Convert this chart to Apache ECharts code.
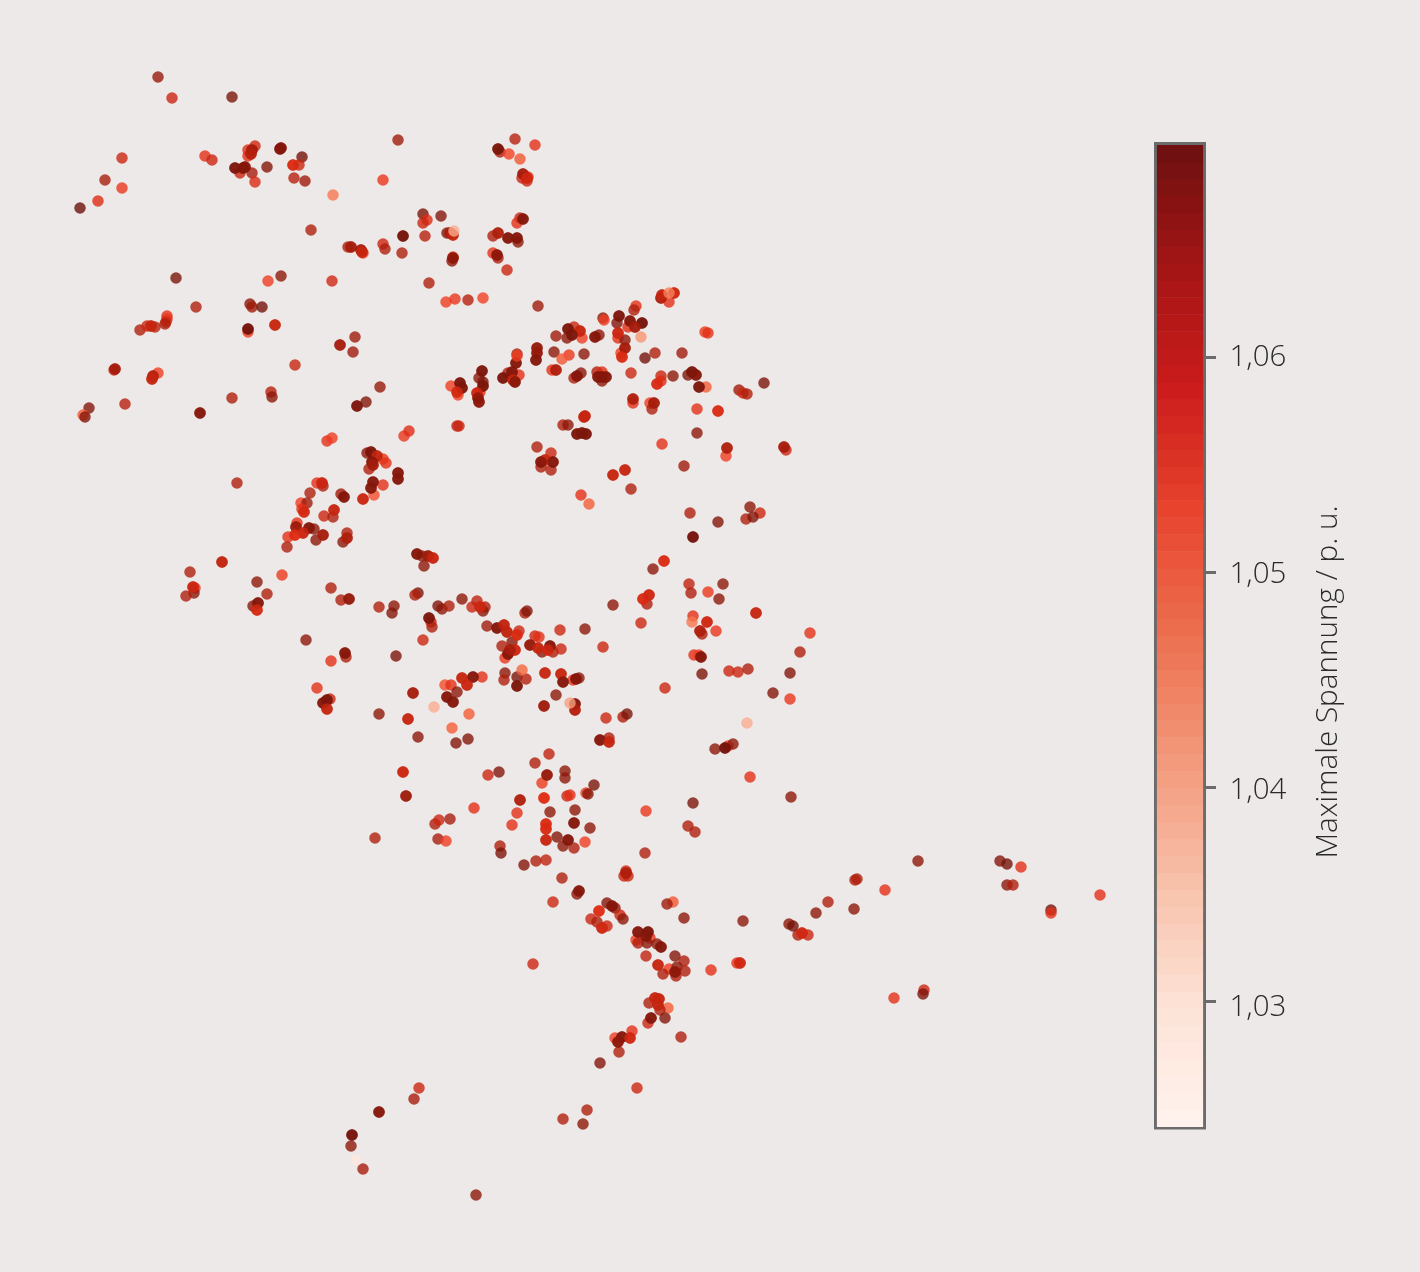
<!DOCTYPE html>
<html><head><meta charset="utf-8">
<style>html,body{margin:0;padding:0;background:#ede9e8}#c{width:1420px;height:1272px}</style>
<script src="https://cdn.jsdelivr.net/npm/echarts@6/dist/echarts.min.js"></script>
</head><body><div id="c"></div>
<script>
// Nodes: [easting, northing, maximum voltage in p.u.]
var nodesNorthWest = [[158,77,1.064],[172,98,1.057],[232,97,1.067],[122,158,1.057],[105,180,1.062],[122,188,1.05],[98,201,1.053],[80,208,1.069],[205,156,1.052],[212,160,1.057],[255,146,1.056],[248,150,1.053],[248,156,1.052],[240,173,1.057],[252,173,1.062],[255,182,1.054],[302,157,1.068],[267,167,1.066],[299,165,1.057],[294,178,1.06],[305,181,1.063],[333,195,1.04],[383,180,1.05],[398,140,1.063],[311,230,1.061],[423,214,1.067],[427,220,1.053],[423,223,1.057],[441,216,1.066],[425,236,1.06],[447,233,1.066],[348,247,1.061],[363,253,1.05],[383,244,1.057],[385,249,1.061],[402,253,1.061],[453,257,1.05],[452,261,1.065],[176,278,1.067],[281,276,1.065],[268,281,1.048],[332,281,1.056],[429,283,1.061],[446,302,1.048],[455,299,1.05],[196,307,1.061],[250,304,1.065],[252,307,1.063],[262,307,1.068],[167,316,1.052],[167,319,1.05],[166,322,1.057],[165,324,1.061],[140,330,1.061],[147,326,1.057],[155,327,1.06],[248,332,1.048],[355,337,1.063],[353,352,1.063],[295,365,1.058],[114,370,1.057],[158,373,1.048],[380,387,1.064],[271,392,1.06],[272,397,1.065],[232,398,1.061],[125,404,1.06],[366,402,1.066],[89,408,1.066],[83,415,1.043],[85,417,1.066],[457,426,1.06],[404,436,1.05],[409,431,1.053],[327,441,1.052],[332,438,1.048]];
var nodesNorthEast = [[515,139,1.06],[535,145,1.052],[500,152,1.061],[509,154,1.047],[520,159,1.044],[528,177,1.053],[522,178,1.057],[527,181,1.057],[520,218,1.057],[517,223,1.052],[493,236,1.061],[518,242,1.065],[493,253,1.052],[498,258,1.061],[507,270,1.057],[468,300,1.06],[483,298,1.047],[538,306,1.063],[669,302,1.052],[636,306,1.052],[634,310,1.061],[603,318,1.065],[604,320,1.048],[617,323,1.066],[628,327,1.053],[618,338,1.052],[625,340,1.065],[621,353,1.048],[574,327,1.058],[567,338,1.065],[582,338,1.048],[556,336,1.063],[599,335,1.065],[655,353,1.061],[682,353,1.063],[645,358,1.068],[554,352,1.065],[569,355,1.05],[584,354,1.065],[517,354,1.061],[519,375,1.052],[508,373,1.061],[479,378,1.065],[483,382,1.067],[480,392,1.052],[451,386,1.048],[458,395,1.048],[552,370,1.052],[581,373,1.065],[574,378,1.061],[597,372,1.061],[602,372,1.053],[602,381,1.065],[631,373,1.057],[661,376,1.058],[661,381,1.053],[673,376,1.065],[688,375,1.067],[706,387,1.043],[705,332,1.049],[708,333,1.052],[739,390,1.063],[743,393,1.057],[747,394,1.061],[764,383,1.067],[633,403,1.052],[650,403,1.048],[652,409,1.061],[697,409,1.052],[459,426,1.057],[563,425,1.061],[568,425,1.065],[697,433,1.065],[662,444,1.052],[726,456,1.048],[786,450,1.057],[684,466,1.063],[537,447,1.061],[551,453,1.057],[541,467,1.061],[551,470,1.061],[631,489,1.061],[581,495,1.052],[589,504,1.043],[690,513,1.061],[750,507,1.065],[760,513,1.057],[746,519,1.061],[753,517,1.066],[718,522,1.066]];
var nodesCentreWest = [[367,453,1.065],[383,459,1.05],[386,463,1.052],[369,469,1.061],[383,485,1.052],[374,495,1.045],[237,483,1.061],[317,483,1.052],[323,486,1.061],[310,493,1.061],[301,503,1.048],[307,503,1.063],[302,509,1.052],[341,494,1.063],[324,516,1.057],[333,517,1.061],[297,523,1.052],[314,529,1.065],[288,537,1.052],[316,540,1.065],[347,533,1.061],[343,542,1.065],[287,547,1.061],[190,572,1.061],[195,588,1.05],[194,593,1.065],[186,596,1.061],[257,582,1.065],[282,575,1.049],[267,594,1.061],[253,606,1.065],[306,640,1.065],[331,588,1.061],[341,600,1.061],[379,607,1.061],[394,606,1.065],[392,613,1.066],[422,556,1.065],[424,566,1.065],[418,593,1.067],[415,595,1.061],[431,622,1.057],[432,627,1.061],[438,606,1.067],[442,609,1.065],[449,606,1.061],[462,599,1.065],[472,607,1.057],[477,601,1.059],[485,607,1.061],[483,611,1.065],[423,640,1.057],[346,657,1.061],[331,661,1.052],[396,656,1.067],[317,688,1.052],[330,699,1.057],[379,714,1.065],[418,737,1.065],[445,685,1.045],[451,685,1.052],[482,677,1.052],[457,692,1.065],[469,714,1.043],[452,728,1.043],[456,743,1.066],[468,739,1.066]];
var nodesCentre = [[487,626,1.063],[519,631,1.057],[512,642,1.065],[502,646,1.061],[505,658,1.05],[525,613,1.061],[527,611,1.066],[560,630,1.057],[535,636,1.057],[539,637,1.052],[542,652,1.065],[553,652,1.061],[561,649,1.057],[505,673,1.065],[504,680,1.061],[517,677,1.067],[526,679,1.06],[573,680,1.05],[579,678,1.065],[556,695,1.065],[585,629,1.065],[603,647,1.057],[606,718,1.057],[623,717,1.061],[627,714,1.067],[609,738,1.061],[613,605,1.065],[641,623,1.057],[647,604,1.061],[653,569,1.065],[689,584,1.059],[691,593,1.061],[708,592,1.05],[723,584,1.065],[719,599,1.065],[810,633,1.052],[800,652,1.061],[693,616,1.052],[716,631,1.05],[702,634,1.061],[694,655,1.052],[699,655,1.048],[702,674,1.067],[729,671,1.057],[738,672,1.057],[748,669,1.061],[790,673,1.066],[773,693,1.066],[790,699,1.05],[665,688,1.057],[715,749,1.065],[728,746,1.048],[733,744,1.065],[750,777,1.052],[791,797,1.065]];
var nodesSouthCentre = [[549,754,1.059],[535,763,1.061],[565,771,1.065],[565,778,1.065],[542,783,1.049],[488,775,1.057],[499,772,1.066],[474,808,1.052],[567,796,1.057],[517,813,1.052],[550,812,1.065],[594,785,1.067],[586,793,1.048],[588,794,1.066],[570,795,1.052],[512,825,1.052],[575,810,1.065],[590,828,1.065],[585,842,1.048],[557,837,1.066],[563,846,1.065],[574,848,1.061],[646,811,1.05],[693,803,1.067],[688,826,1.061],[695,832,1.061],[645,853,1.061],[500,846,1.061],[501,853,1.067],[536,861,1.061],[546,860,1.059],[435,824,1.061],[439,820,1.057],[450,819,1.062],[438,839,1.062],[446,841,1.048],[375,838,1.061],[524,865,1.066],[562,878,1.061],[577,894,1.065],[553,902,1.057],[533,964,1.057],[626,871,1.057],[624,876,1.057],[628,876,1.057],[673,902,1.044],[667,904,1.063],[684,918,1.065],[743,921,1.065],[607,903,1.066],[615,908,1.065],[620,915,1.057],[623,919,1.065],[591,919,1.057],[597,922,1.061],[607,926,1.057],[650,938,1.052],[636,940,1.048],[638,943,1.061],[647,943,1.065],[657,944,1.065],[646,956,1.059],[675,956,1.066],[684,961,1.061],[669,969,1.048],[677,967,1.065],[663,974,1.061],[685,971,1.061],[676,976,1.061],[649,1003,1.061],[668,1008,1.043],[660,1010,1.061],[648,1023,1.057],[665,1018,1.066],[681,1037,1.061],[632,1031,1.052],[615,1038,1.048],[619,1052,1.061],[600,1063,1.066]];
var nodesEastSouth = [[857,879,1.061],[855,880,1.061],[828,902,1.061],[816,913,1.065],[854,909,1.065],[885,890,1.052],[918,861,1.065],[1000,861,1.066],[1007,864,1.068],[1021,867,1.052],[1007,885,1.065],[1013,885,1.061],[1051,910,1.068],[1051,913,1.052],[1100,895,1.052],[924,990,1.057],[923,994,1.067],[894,998,1.052],[808,935,1.057],[798,935,1.061],[789,924,1.065],[793,926,1.068],[711,970,1.052],[737,963,1.052],[637,1088,1.057],[419,1088,1.057],[414,1099,1.062],[587,1110,1.061],[563,1119,1.061],[583,1124,1.065],[351,1146,1.065],[363,1169,1.062],[356,1160,1.025],[476,1195,1.065]];
// Sites that hold two nodes on top of each other
var twinSitesNorth = [[252,150,1.062],[251,154,1.06],[280,149,1.066],[281,148,1.066],[235,168,1.067],[243,168,1.066],[245,167,1.066],[293,165,1.054],[403,236,1.068],[450,233,1.062],[453,235,1.058],[351,247,1.062],[361,250,1.062],[362,252,1.057],[453,258,1.065],[151,326,1.058],[248,329,1.068],[275,325,1.058],[340,345,1.062],[115,369,1.062],[153,376,1.06],[152,379,1.058],[357,406,1.067],[200,413,1.066],[498,149,1.067],[523,174,1.062],[527,178,1.056],[523,219,1.066],[498,233,1.061],[508,238,1.066],[517,238,1.066],[497,255,1.065],[674,293,1.056],[661,298,1.061],[662,295,1.058],[619,316,1.067],[630,321,1.066],[642,323,1.068],[635,327,1.062],[618,333,1.057],[625,348,1.062],[622,357,1.054],[580,331,1.058],[568,329,1.067],[572,335,1.067],[595,337,1.066],[537,348,1.064],[537,353,1.064],[536,360,1.066],[516,363,1.066],[512,372,1.066],[503,378,1.067],[513,380,1.058],[515,382,1.066],[482,371,1.067],[483,386,1.067],[477,393,1.056],[478,398,1.065],[479,402,1.065],[460,383,1.067],[462,388,1.067],[457,392,1.055],[556,370,1.061],[577,376,1.066],[602,377,1.066],[598,377,1.066],[606,377,1.066],[657,384,1.054],[692,372,1.067],[696,375,1.066],[699,387,1.067],[633,399,1.061],[654,403,1.062],[718,411,1.054],[585,416,1.058],[584,417,1.058],[577,434,1.067],[582,433,1.067],[586,434,1.067],[727,448,1.061],[784,447,1.062],[545,460,1.058],[541,462,1.066],[553,462,1.066],[613,475,1.058],[625,470,1.058]];
var twinSitesCentre = [[371,452,1.067],[377,456,1.058],[372,462,1.066],[373,465,1.062],[398,473,1.066],[398,479,1.066],[373,482,1.066],[371,488,1.066],[363,499,1.057],[222,562,1.059],[322,483,1.057],[344,497,1.066],[304,512,1.055],[334,510,1.058],[296,527,1.063],[309,528,1.066],[303,533,1.057],[295,535,1.053],[323,535,1.062],[347,538,1.061],[193,587,1.057],[258,603,1.066],[257,610,1.055],[349,599,1.064],[417,554,1.066],[428,556,1.063],[433,558,1.057],[429,618,1.067],[480,607,1.057],[497,628,1.066],[504,625,1.059],[507,632,1.059],[517,635,1.054],[508,654,1.066],[515,650,1.056],[510,650,1.062],[530,645,1.064],[538,648,1.058],[550,646,1.066],[548,650,1.056],[345,653,1.066],[323,703,1.066],[327,700,1.067],[327,709,1.058],[413,693,1.062],[408,719,1.058],[462,678,1.058],[473,677,1.066],[467,685,1.057],[447,697,1.066],[453,702,1.066],[517,686,1.067],[545,673,1.058],[561,674,1.058],[563,682,1.066],[544,706,1.063],[575,704,1.066],[575,710,1.06],[576,679,1.066],[693,537,1.068],[664,561,1.054],[643,599,1.054],[649,595,1.056],[756,613,1.058],[707,622,1.056],[700,631,1.061],[701,657,1.066],[600,740,1.066],[609,742,1.058],[725,748,1.068]];
var twinSitesSouth = [[403,772,1.057],[406,796,1.063],[547,775,1.064],[520,800,1.061],[544,798,1.053],[574,823,1.066],[546,824,1.054],[546,829,1.054],[568,840,1.066],[546,840,1.058],[626,873,1.061],[579,891,1.066],[612,906,1.066],[599,911,1.053],[602,928,1.056],[638,932,1.066],[648,932,1.067],[646,936,1.066],[661,947,1.066],[658,965,1.058],[675,972,1.065],[740,963,1.056],[655,998,1.058],[659,999,1.058],[658,1005,1.058],[651,1018,1.066],[622,1037,1.066],[630,1038,1.056],[618,1042,1.065],[379,1112,1.066],[352,1135,1.068],[802,933,1.056]];
// Low-voltage nodes drawn over their neighbours
var overlayNodes = [[454,231,1.034],[669,293,1.039],[641,337,1.037],[562,359,1.044],[517,356,1.048],[692,622,1.04],[434,707,1.034],[747,723,1.034],[570,703,1.036],[522,670,1.042]];

var tickValues = [1.03,1.04,1.05,1.06];
var tickLabels = ['1,03','1,04','1,05','1,06'];
var scaleMin = 1.0241, scaleMax = 1.06996;
var barColors = ['#fff3ee','#fde2d6','#f7c0a9','#f3987a','#ec7050','#e8442e','#cc1c1c','#a51515','#6c1010'];
var dotColors = ['#fff0e8','#fbc4a8','#f8a484','#f46a40','#f04022','#e02c14','#c4240f','#93190a','#64100a'];
var scaleBandCount = 58;

var singles = [].concat(nodesNorthWest,nodesNorthEast,nodesCentreWest,nodesCentre,nodesSouthCentre,nodesEastSouth);
var twins = [].concat(twinSitesNorth,twinSitesCentre,twinSitesSouth);
var marks = singles.concat(twins,twins,overlayNodes);

var inset = 0.00007, bands = [];
for (var i=0;i<scaleBandCount;i++){
  var span = scaleMax-scaleMin-2*inset;
  var lo = scaleMin+inset+span*i/scaleBandCount, hi = scaleMin+inset+span*(i+1)/scaleBandCount;
  bands.push([0,lo,hi,echarts.color.lerp((i+0.5)/scaleBandCount,barColors)]);
}
var chart = echarts.init(document.getElementById('c'),null,{renderer:'canvas'});
chart.setOption({
  animation:false,
  backgroundColor:'#ede9e8',
  textStyle:{fontFamily:'"Open Sans"'},
  grid:[{left:0,top:0,width:1420,height:1272},{left:1155.5,top:143.5,width:49,height:984.5,show:true,backgroundColor:'transparent',borderColor:'#6b6b6b',borderWidth:3}],
  xAxis:[{gridIndex:0,type:'value',min:0,max:1420,show:false},{gridIndex:1,type:'value',min:-0.03,max:1.03,show:false}],
  yAxis:[{gridIndex:0,type:'value',min:0,max:1272,inverse:true,show:false},
    {gridIndex:1,type:'value',min:scaleMin,max:scaleMax,position:'right',splitLine:{show:false},
     axisLine:{show:false},axisLabel:{show:false},axisTick:{show:false}},
    {gridIndex:1,type:'value',min:1.02443,max:1.06991,position:'right',splitLine:{show:false},
     axisLine:{show:false},axisTick:{show:false},
     axisLabel:{show:true,margin:25,customValues:tickValues,fontFamily:'"Open Sans"',fontWeight:300,fontSize:29.5,color:'#2a2a2a',
       formatter:function(v){return tickLabels[tickValues.indexOf(Math.round(v*100)/100)];}}}],
  visualMap:{show:false,seriesIndex:0,dimension:2,min:scaleMin,max:scaleMax,inRange:{color:dotColors}},
  graphic:[{type:'text',x:1329,y:682,rotation:Math.PI/2,style:{text:'Maximale Spannung / p. u.',fill:'#2a2a2a',font:'300 29.7px "Open Sans"',textAlign:'center',textVerticalAlign:'middle'}}],
  series:[
    {type:'scatter',xAxisIndex:0,yAxisIndex:0,data:marks,symbolSize:11.5,itemStyle:{opacity:0.8},silent:true,large:false,encode:{x:0,y:1}},
    {type:'custom',xAxisIndex:1,yAxisIndex:1,data:bands,silent:true,encode:{y:[1,2]},
     renderItem:function(p,api){
       var a=api.coord([0,api.value(1)]), b=api.coord([1,api.value(2)]);
       return {type:'rect',shape:{x:a[0],y:b[1],width:b[0]-a[0],height:a[1]-b[1]+0.5},style:{fill:bands[p.dataIndex][3]}};
     }},
    {type:'custom',xAxisIndex:1,yAxisIndex:1,clip:false,silent:true,data:tickValues.map(function(v){return [1.03,v];}),encode:{x:0,y:1},
     renderItem:function(p,api){
       var c=api.coord([api.value(0),api.value(1)]), y=Math.round(c[1])+0.5;
       return {type:'line',shape:{x1:c[0],y1:y,x2:c[0]+11.5,y2:y},style:{stroke:'#6b6b6b',lineWidth:3}};
     }}
  ]
});
</script></body></html>
